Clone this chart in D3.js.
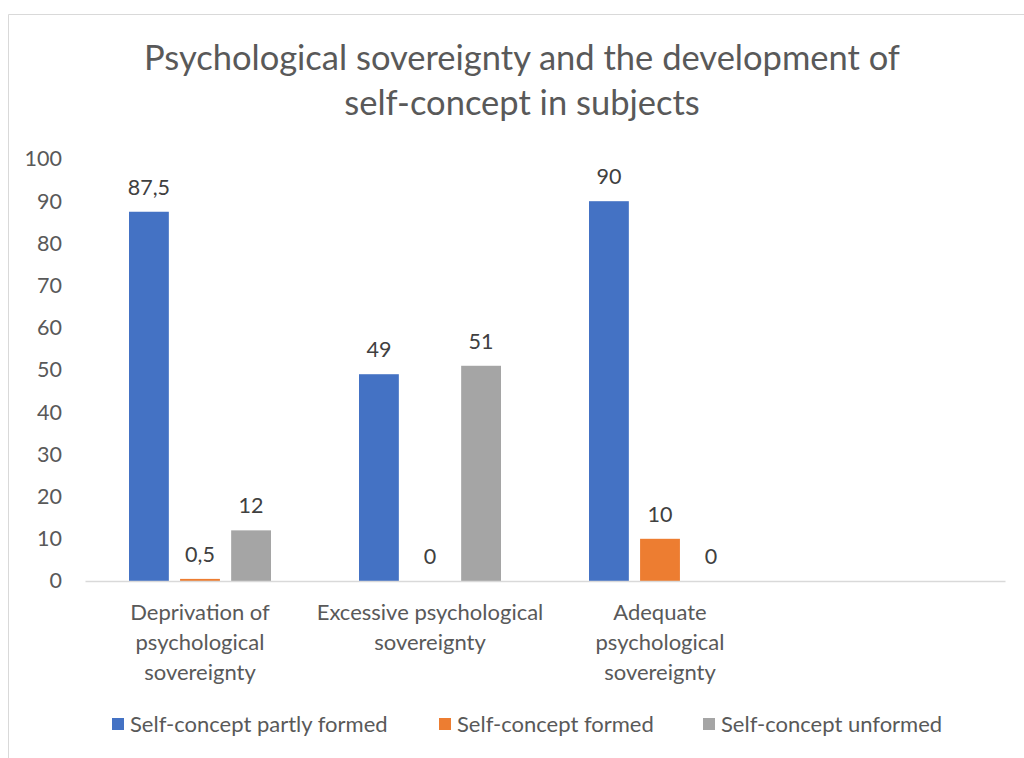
<!DOCTYPE html>
<html>
<head>
<meta charset="utf-8">
<script src="https://cdn.jsdelivr.net/npm/d3@7"></script>
<style>
  body { margin: 0; background: #fff; }
  svg text { font-family: Lato, "Open Sans", sans-serif; }
</style>
</head>
<body>
<div id="chart"></div>
<script>
const categories = ['Deprivation', 'Excessive', 'Adequate', ''];
const categoryLines = [
  ['Deprivation of', 'psychological', 'sovereignty'],
  ['Excessive psychological', 'sovereignty'],
  ['Adequate', 'psychological', 'sovereignty'],
  []
];
const seriesNames = ['Self-concept partly formed', 'Self-concept formed', 'Self-concept unformed'];
const partlyFormed = [87.5, 49, 90];
const formed = [0.5, 0, 10];
const unformed = [12, 51, 0];
const colors = ['#4472C4', '#ED7D31', '#A5A5A5'];
const yTicks = [0, 10, 20, 30, 40, 50, 60, 70, 80, 90, 100];

const width = 1024;
const height = 758;
const margin = { top: 159, right: 19, bottom: 177, left: 85 };

const series = [partlyFormed, formed, unformed];
const rows = [];
categories.slice(0, 3).forEach((c, i) => {
  series.forEach((s, j) => rows.push({ cat: c, key: seriesNames[j], value: s[i], color: colors[j] }));
});

const locale = d3.formatLocale({ decimal: ',', thousands: ' ', grouping: [3], currency: ['', ''] });
const fmt = (v) => locale.format('~g')(v);

const svg = d3.select('#chart').append('svg')
  .attr('width', width)
  .attr('height', height);

// chart area border
svg.append('path')
  .attr('d', `M8.5,${height} V14.5 H${width}`)
  .attr('fill', 'none')
  .attr('stroke', '#d9d9d9');

svg.append('text')
  .attr('x', 522).attr('y', 70)
  .attr('text-anchor', 'middle')
  .attr('font-size', 34.5).attr('fill', '#595959')
  .text('Psychological sovereignty and the development of');
svg.append('text')
  .attr('x', 522).attr('y', 115)
  .attr('text-anchor', 'middle')
  .attr('font-size', 34.5).attr('fill', '#595959')
  .text('self-concept in subjects');

const x = d3.scaleBand()
  .domain(categories)
  .range([margin.left, width - margin.right]);

const x1 = d3.scaleBand()
  .domain(seriesNames)
  .range([0, 142])
  .paddingInner(0.22);

const y = d3.scaleLinear()
  .domain([0, 100])
  .range([height - margin.bottom, margin.top]);

// y axis labels
const yAxis = svg.append('g')
  .attr('transform', `translate(${margin.left - 23},0)`)
  .call(d3.axisLeft(y).tickValues(yTicks).tickSize(0).tickPadding(0));
yAxis.select('.domain').remove();
yAxis.selectAll('text')
  .attr('font-size', 21.5)
  .attr('fill', '#595959');

// bars
svg.append('g')
  .selectAll('rect')
  .data(rows)
  .join('rect')
  .attr('x', (d) => x(d.cat) + (x.bandwidth() - 142) / 2 + x1(d.key))
  .attr('y', (d) => y(d.value))
  .attr('width', x1.bandwidth())
  .attr('height', (d) => y(0) - y(d.value))
  .attr('fill', (d) => d.color);

// value labels
svg.append('g')
  .selectAll('text')
  .data(rows)
  .join('text')
  .attr('x', (d) => x(d.cat) + (x.bandwidth() - 142) / 2 + x1(d.key) + x1.bandwidth() / 2)
  .attr('y', (d) => y(d.value) - 17)
  .attr('text-anchor', 'middle')
  .attr('font-size', 21.5)
  .attr('fill', '#404040')
  .text((d) => fmt(d.value));

// x axis line
const xAxis = svg.append('g')
  .attr('transform', `translate(0,${y(0)})`)
  .call(d3.axisBottom(x).tickSize(0).tickFormat(''));
xAxis.select('.domain').attr('stroke', '#d9d9d9').attr('stroke-width', 1.5);

// category labels
categories.forEach((c, i) => {
  const t = svg.append('text')
    .attr('text-anchor', 'middle')
    .attr('font-size', 22)
    .attr('fill', '#595959');
  categoryLines[i].forEach((line, k) => {
    t.append('tspan')
      .attr('x', x(c) + x.bandwidth() / 2)
      .attr('y', y(0) + 39 + k * 30)
      .text(line);
  });
});

// legend
const legendX = [112, 439, 703];
const legend = svg.append('g');
seriesNames.forEach((name, i) => {
  legend.append('rect')
    .attr('x', legendX[i]).attr('y', 718)
    .attr('width', 12).attr('height', 12)
    .attr('fill', colors[i]);
  legend.append('text')
    .attr('x', legendX[i] + 18).attr('y', 732)
    .attr('font-size', 22)
    .attr('fill', '#595959')
    .text(name);
});
</script>
</body>
</html>
